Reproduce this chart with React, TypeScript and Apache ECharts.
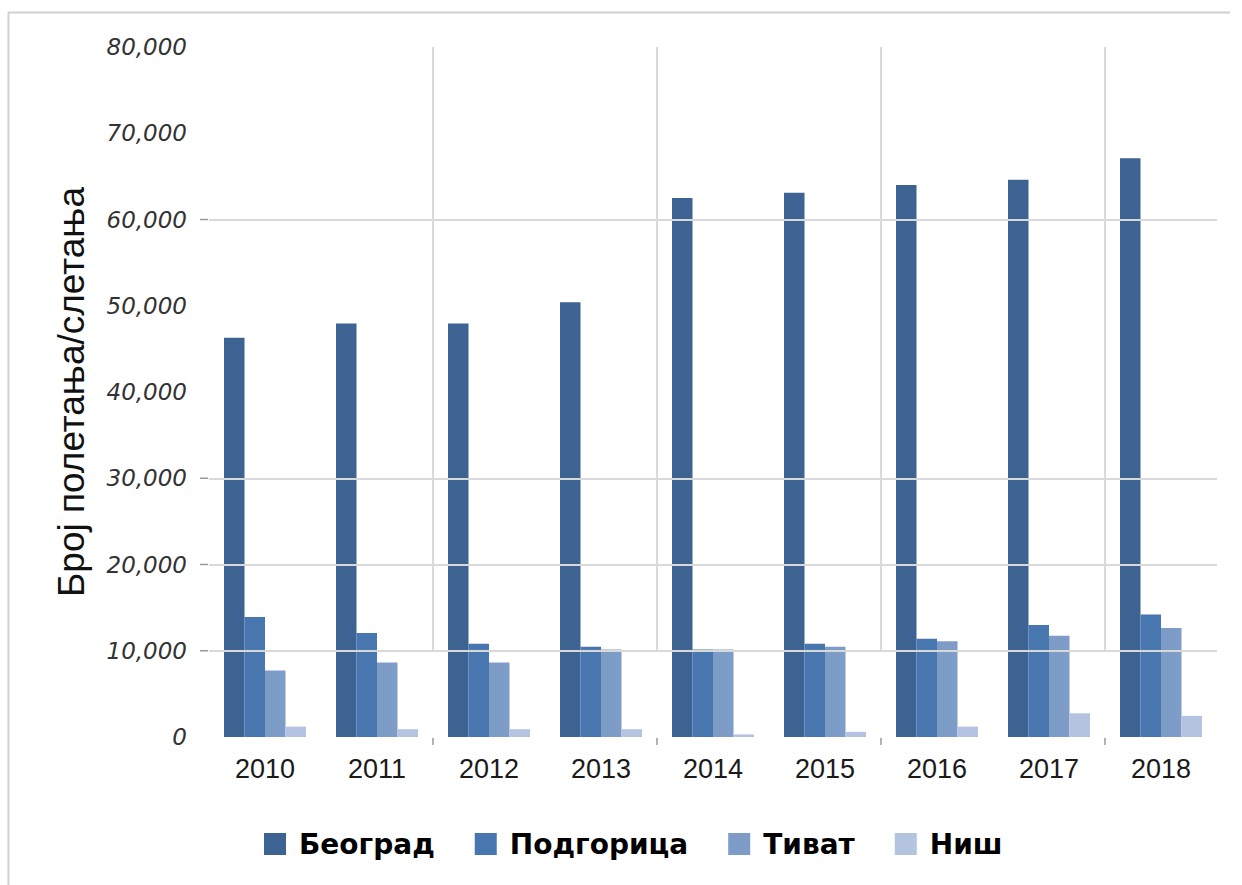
import React, { useEffect, useRef } from "react";
import * as echarts from "echarts";

const years = ["2010", "2011", "2012", "2013", "2014", "2015", "2016", "2017", "2018"];
const seriesNames = ["Београд", "Подгорица", "Тиват", "Ниш"];
const beograd = [46300, 47950, 47950, 50400, 62500, 63100, 64000, 64600, 67100];
const podgorica = [13900, 12050, 10800, 10450, 10150, 10800, 11400, 13000, 14200];
const tivat = [7700, 8650, 8650, 10150, 10150, 10450, 11100, 11750, 12650];
const nis = [1200, 900, 900, 900, 300, 600, 1200, 2750, 2450];
const colors = ["#3d6393", "#4876ae", "#7e9cc8", "#b3c3e0"];
const gridValues = [10000, 20000, 30000, 60000];
const verticalBoundaries = [2, 4, 6, 8];
const yTitle = "Број полетања/слетања";

export default function App() {
  const ref = useRef<HTMLDivElement>(null);
  useEffect(() => {
    if (!ref.current) return;
    const chart = echarts.init(ref.current, undefined, { renderer: "svg" });
    const values = [beograd, podgorica, tivat, nis];
    const gridLineData: any[] = [];
    gridValues.forEach((v) => gridLineData.push([{ coord: [0, v] }, { coord: [9, v] }]));
    verticalBoundaries.forEach((b) => gridLineData.push([{ coord: [b, 80000] }, { coord: [b, 10000] }]));
    const borders: any[] = [
      { type: "line", shape: { x1: 8.5, y1: 12, x2: 8.5, y2: 885 }, style: { stroke: "#d0d0d0", lineWidth: 2 } },
      { type: "line", shape: { x1: 8, y1: 12.5, x2: 1230, y2: 12.5 }, style: { stroke: "#d0d0d0", lineWidth: 2 } },
    ];
    chart.setOption({
      animation: false,
      backgroundColor: "#ffffff",
      grid: { left: 209, right: 25, top: 47, bottom: 148, containLabel: false },
      legend: {
        data: seriesNames,
        left: 259,
        top: 825,
        icon: "rect",
        itemWidth: 22,
        itemHeight: 22,
        itemGap: 40,
        textStyle: {
          fontFamily: "DejaVu Sans",
          fontWeight: "bold",
          fontSize: 28,
          color: "#000",
          padding: [0, 0, 0, 8],
        },
      },
      xAxis: [
        {
          type: "category",
          data: years,
          axisLine: { show: false },
          axisTick: { show: false },
          axisLabel: { fontFamily: "Liberation Sans", fontSize: 27, color: "#1a1a1a", margin: 18 },
          splitLine: { show: false },
        },
        { type: "value", min: 0, max: 9, show: false },
      ],
      yAxis: {
        type: "value",
        min: 0,
        max: 80000,
        interval: 10000,
        axisLine: { show: false },
        axisTick: { show: false },
        splitLine: { show: false },
        axisLabel: {
          fontFamily: "DejaVu Sans",
          fontStyle: "italic",
          fontSize: 23,
          color: "#333",
          margin: 22,
          formatter: (v: number) => v.toLocaleString("en-US"),
        },
        name: yTitle,
        nameLocation: "middle",
        nameGap: 119,
        nameTextStyle: { fontFamily: "Liberation Sans", fontSize: 37, color: "#111" },
      },
      graphic: borders,
      series: [
        {
          type: "line",
          name: "grid",
          xAxisIndex: 1,
          yAxisIndex: 0,
          data: [],
          z: 1,
          silent: true,
          markLine: {
            silent: true,
            symbol: "none",
            label: { show: false },
            lineStyle: { color: "#d9d9d9", width: 2, type: "solid" },
            data: gridLineData,
          },
        },
        ...seriesNames.map((name, i) => ({
          type: "bar",
          name,
          data: values[i],
          xAxisIndex: 0,
          yAxisIndex: 0,
          barWidth: 20.5,
          barGap: "0%",
          z: 2,
          itemStyle: { color: colors[i] },
        })),
      ],
    });
    // small axis ticks, positioned through the chart's own scales
    const finder = { xAxisIndex: 1, yAxisIndex: 0 };
    const ticks: any[] = [];
    gridValues.forEach((v) => {
      const p = chart.convertToPixel(finder, [0, v]) as number[];
      ticks.push({
        type: "line",
        shape: { x1: p[0] - 9, y1: p[1], x2: p[0] - 1, y2: p[1] },
        style: { stroke: "#9a9a9a", lineWidth: 1.5 },
      });
    });
    verticalBoundaries.forEach((b) => {
      const p = chart.convertToPixel(finder, [b, 0]) as number[];
      ticks.push({
        type: "line",
        shape: { x1: p[0], y1: p[1] + 1, x2: p[0], y2: p[1] + 8 },
        style: { stroke: "#9a9a9a", lineWidth: 1.5 },
      });
    });
    chart.setOption({ graphic: [...borders, ...ticks] });
    return () => chart.dispose();
  }, []);
  return <div ref={ref} style={{ position: "absolute", left: 0, top: 0, width: 1242, height: 885 }} />;
}
